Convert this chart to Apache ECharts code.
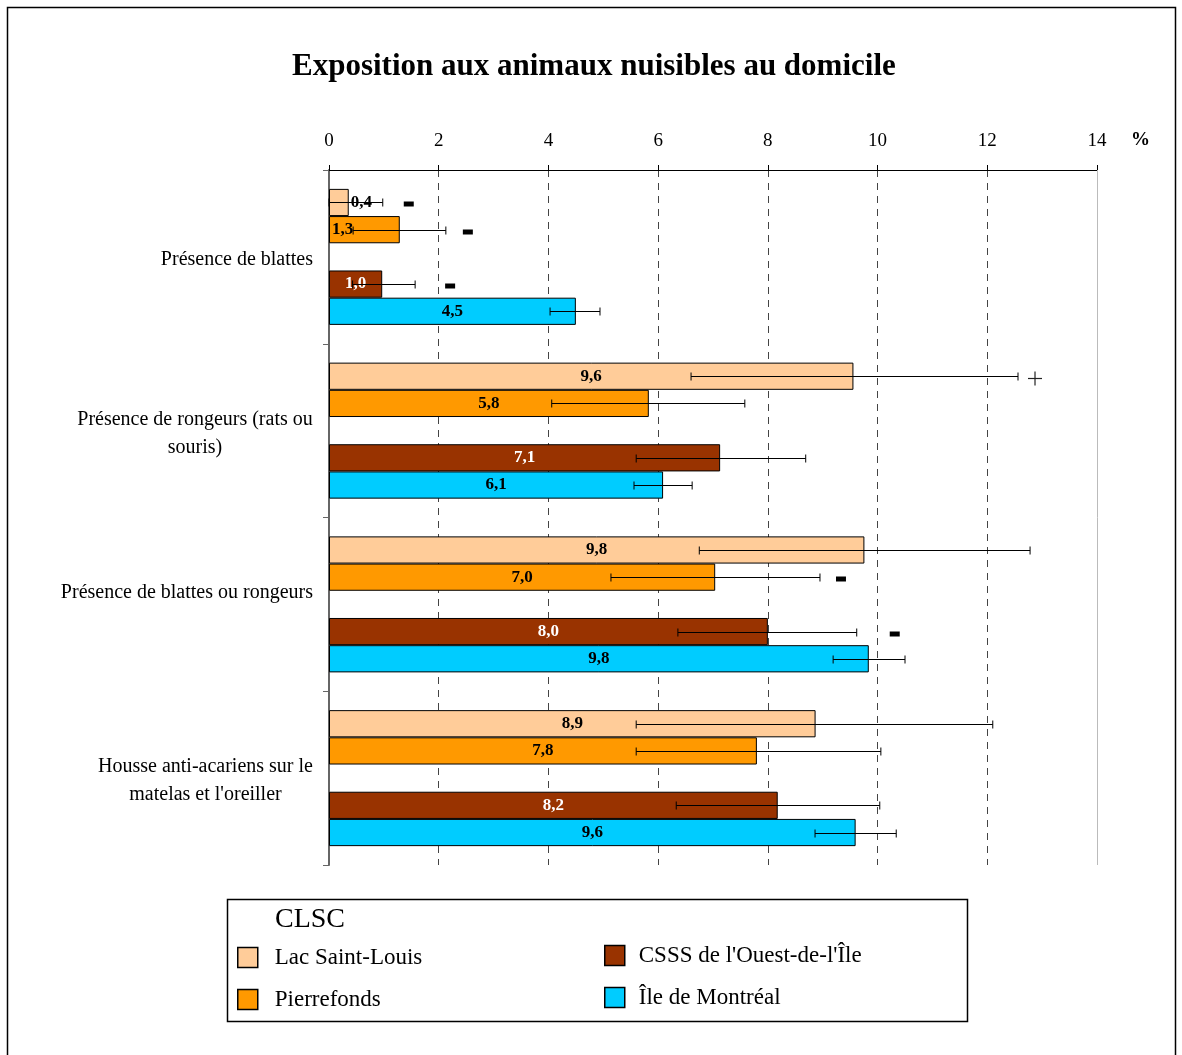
<!DOCTYPE html>
<html><head><meta charset="utf-8">
<script src="https://cdn.jsdelivr.net/npm/echarts@6/dist/echarts.min.js"></script>
<style>html,body{margin:0;padding:0;background:#fff}#c{width:1182px;height:1055px}</style>
</head><body><div id="c"></div>
<script>
// ---------- DATA ----------
const categories = [
  'Présence de blattes',
  'Présence de rongeurs (rats ou\nsouris)',
  'Présence de blattes ou rongeurs',
  "Housse anti-acariens sur le\nmatelas et l'oreiller"
];
const seriesNames = ['Lac Saint-Louis', 'Pierrefonds', "CSSS de l'Ouest-de-l'Île", 'Île de Montréal'];
const xTicks = [0, 2, 4, 6, 8, 10, 12, 14];

const lacValues  = [0.36, 9.56, 9.76, 8.87];
const lacLow     = [0.0, 6.6, 6.75, 5.6];
const lacHigh    = [0.98, 12.56, 12.78, 12.1];
const lacMarks   = ['-', '+', '', ''];

const pierValues = [1.29, 5.83, 7.04, 7.8];
const pierLow    = [0.44, 4.06, 5.14, 5.6];
const pierHigh   = [2.13, 7.58, 8.95, 10.06];
const pierMarks  = ['-', '', '-', ''];

const csssValues = [0.97, 7.13, 8.0, 8.18];
const csssLow    = [0.43, 5.6, 6.36, 6.33];
const csssHigh   = [1.57, 8.69, 9.62, 10.04];
const csssMarks  = ['-', '', '-', ''];

const ileValues  = [4.5, 6.09, 9.84, 9.6];
const ileLow     = [4.03, 5.56, 9.19, 8.86];
const ileHigh    = [4.94, 6.62, 10.5, 10.34];
const ileMarks   = ['', '', '', ''];

// ---------- STYLE / LAYOUT ----------
const SERIF = '"Liberation Serif", "Times New Roman", serif';
const colors = ['#FFCC99', '#FF9900', '#993300', '#00CCFF'];
const labelColors = ['#000', '#000', '#fff', '#000'];
const slots = [0, 1, 3, 4];   // slot 2 is an empty gap
const SLOTS = 5;
const BAR_W = 27.2;
const CAT_FONT = 20;

const groups = [
  {v: lacValues, lo: lacLow, hi: lacHigh, m: lacMarks},
  {v: pierValues, lo: pierLow, hi: pierHigh, m: pierMarks},
  {v: csssValues, lo: csssLow, hi: csssHigh, m: csssMarks},
  {v: ileValues, lo: ileLow, hi: ileHigh, m: ileMarks}
];

const labelTweaks = {
  '0-0': {position: 'right', distance: 2},
  '1-0': {position: 'insideLeft', distance: 3}
};
// marker gap (px) after the upper error-bar end
const markGap = {'0-0': 26, '1-0': 22, '2-0': 35, '0-1': 17, '1-2': 21, '2-2': 38};

const fmt = v => (Math.round(v * 10) / 10).toFixed(1).replace('.', ',');

// measure multi-line label widths so lines are centred in a right-aligned block
const mctx = document.createElement('canvas').getContext('2d');
mctx.font = CAT_FONT + 'px ' + SERIF;
const rich = {};
categories.forEach((c, i) => {
  const lines = c.split('\n');
  const w = Math.max(...lines.map(l => mctx.measureText(l).width));
  rich['m' + i] = {width: Math.ceil(w), align: 'center', fontFamily: SERIF, fontSize: CAT_FONT, color: '#000', lineHeight: 28};
});

const errData = [];
groups.forEach((g, s) => {
  g.v.forEach((_, c) => {
    errData.push({s, cat: c, slot: slots[s], lo: g.lo[c], hi: g.hi[c], mark: g.m[c]});
  });
});

const barSeries = groups.map((g, s) => ({
  name: seriesNames[s],
  type: 'bar',
  barWidth: BAR_W,
  barGap: '0%',
  z: 2,
  itemStyle: {color: colors[s], borderColor: '#000', borderWidth: 1},
  label: {
    show: true, position: 'inside', fontFamily: SERIF, fontWeight: 'bold', fontSize: 17,
    color: labelColors[s], formatter: p => fmt(p.value)
  },
  data: g.v.map((v, c) => {
    const t = labelTweaks[s + '-' + c];
    return t ? {value: v, label: t} : v;
  })
}));
// empty placeholder series to leave the gap between Pierrefonds and CSSS
barSeries.splice(2, 0, {name: '_gap', type: 'bar', barWidth: BAR_W, barGap: '0%', data: [null, null, null, null], silent: true});

const errSeries = {
  type: 'custom',
  z: 5,
  silent: true,
  encode: {x: [0, 2], y: 1},
  data: errData.map(d => [d.lo, d.cat, d.hi]),
  renderItem: (params, api) => {
    const d = errData[params.dataIndex];
    const c = api.coord([0, d.cat]);
    const y = Math.round(c[1] + (d.slot - (SLOTS - 1) / 2) * BAR_W) + 0.5;
    const x1 = api.coord([d.lo, d.cat])[0];
    const x2 = api.coord([d.hi, d.cat])[0];
    const st = {stroke: '#000', lineWidth: 1};
    const ch = [
      {type: 'line', shape: {x1, y1: y, x2, y2: y}, style: st},
      {type: 'line', shape: {x1, y1: y - 4, x2: x1, y2: y + 4}, style: st},
      {type: 'line', shape: {x1: x2, y1: y - 4, x2, y2: y + 4}, style: st}
    ];
    const mx = x2 + (markGap[d.s + '-' + d.cat] || 25);
    if (d.mark === '-') {
      ch.push({type: 'rect', shape: {x: mx - 5, y: y - 1, width: 10, height: 5}, style: {fill: '#000'}});
    } else if (d.mark === '+') {
      ch.push({type: 'line', shape: {x1: mx - 7, y1: y + 2, x2: mx + 7, y2: y + 2}, style: {stroke: '#222', lineWidth: 1.2}});
      ch.push({type: 'line', shape: {x1: mx, y1: y - 5, x2: mx, y2: y + 9}, style: {stroke: '#222', lineWidth: 1.2}});
    }
    return {type: 'group', children: ch};
  },
  markLine: {
    silent: true, symbol: 'none', label: {show: false},
    lineStyle: {color: '#bbb', type: 'solid', width: 1},
    data: [{xAxis: 14}]
  }
};

const legendText = {fontFamily: SERIF, fontSize: 23, color: '#000', padding: [3, 0, 0, 12]};

const option = {
  animation: false,
  backgroundColor: '#fff',
  title: [
    {text: 'Exposition aux animaux nuisibles au domicile', left: 292, top: 51, padding: 0,
     textStyle: {fontFamily: SERIF, fontWeight: 'bold', fontSize: 31, color: '#000'}},
    {text: 'CLSC', left: 275, top: 906, padding: 0,
     textStyle: {fontFamily: SERIF, fontWeight: 'normal', fontSize: 28, color: '#000'}}
  ],
  grid: {left: 329, right: 85, top: 170, bottom: 190, containLabel: false, outerBoundsMode: 'none'},
  xAxis: {
    type: 'value', position: 'top', min: 0, max: 14, interval: 2,
    axisLine: {show: true, lineStyle: {color: '#000', width: 1}},
    axisTick: {show: true, length: 5, lineStyle: {color: '#000'}},
    axisLabel: {fontFamily: SERIF, fontSize: 19, color: '#000', margin: 19,
      formatter: v => xTicks.includes(v) ? String(v) : ''},
    splitLine: {show: true, lineStyle: {type: [7, 6], color: ['#444', '#444', '#444', '#444', '#444', '#444', '#444', '#bbb']}},
    name: '%', nameLocation: 'end', nameGap: 34,
    nameTextStyle: {fontFamily: SERIF, fontWeight: 'bold', fontSize: 19, color: '#000', verticalAlign: 'bottom', padding: [0, 0, 20, 0]}
  },
  yAxis: {
    type: 'category', inverse: true,
    data: categories.map((c, i) => i === 2 ? {value: c, textStyle: {padding: [0, 0, 24, 0]}} : c),
    axisLine: {show: true, lineStyle: {color: '#666', width: 2}},
    axisTick: {show: true, length: 6, lineStyle: {color: '#666'}},
    axisLabel: {
      fontFamily: SERIF, fontSize: CAT_FONT, color: '#000', margin: 16, lineHeight: 28,
      padding: [6, 0, 0, 0],
      formatter: (val, idx) => {
        const lines = val.split('\n');
        if (lines.length === 1) return val;
        return lines.map(l => '{m' + idx + '|' + l + '}').join('\n');
      },
      rich
    },
    splitLine: {show: false}
  },
  legend: [
    {data: [seriesNames[0], seriesNames[1]], orient: 'vertical', left: 232, top: 941,
     itemWidth: 20, itemHeight: 20, itemGap: 19, icon: 'rect', selectedMode: false,
     itemStyle: {borderColor: '#000', borderWidth: 1.5}, textStyle: legendText},
    {data: [seriesNames[2], seriesNames[3]], orient: 'vertical', left: 599, top: 939,
     itemWidth: 20, itemHeight: 20, itemGap: 19, icon: 'rect', selectedMode: false,
     itemStyle: {borderColor: '#000', borderWidth: 1.5}, textStyle: Object.assign({}, legendText, {padding: [3, 0, 0, 9]})}
  ],
  graphic: [
    {type: 'rect', shape: {x: 7.5, y: 7.5, width: 1168, height: 1070}, style: {fill: 'none', stroke: '#000', lineWidth: 1.5}, z: 100},
    {type: 'rect', shape: {x: 227.5, y: 899.5, width: 740, height: 122}, style: {fill: 'none', stroke: '#000', lineWidth: 1.5}, z: 100}
  ],
  series: barSeries.concat([errSeries])
};

const chart = echarts.init(document.getElementById('c'), null, {renderer: 'canvas'});
chart.setOption(option);
</script>
</body></html>
